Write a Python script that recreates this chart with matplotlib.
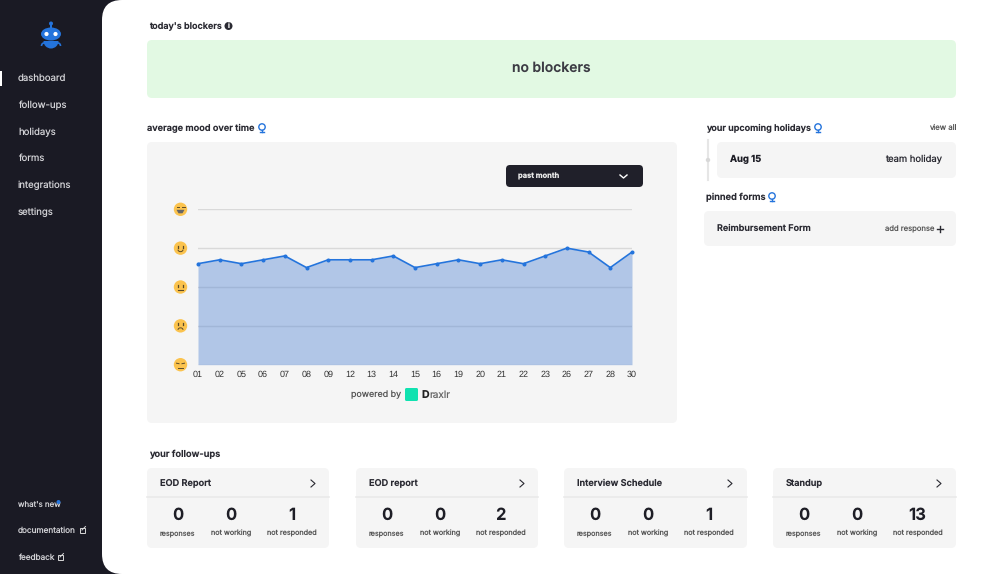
import matplotlib
matplotlib.use("Agg")
import matplotlib.pyplot as plt
from matplotlib.patches import FancyBboxPatch, Circle, Rectangle, Arc, Polygon, Ellipse, Wedge

plt.rcParams["font.family"] = ["Inter", "DejaVu Sans"]
plt.rcParams["text.hinting"] = "no_hinting"
plt.rcParams["text.hinting_factor"] = 1

days = ["01", "02", "05", "06", "07", "08", "09", "12", "13", "14", "15",
        "16", "19", "20", "21", "22", "23", "26", "27", "28", "30"]
mood = [3.6, 3.7, 3.6, 3.7, 3.8, 3.5, 3.7, 3.7, 3.7, 3.8, 3.5,
        3.6, 3.7, 3.6, 3.7, 3.6, 3.8, 4.0, 3.9, 3.5, 3.9]
mood_levels = [1, 2, 3, 4, 5]

nav_top = ["dashboard", "follow-ups", "holidays", "forms", "integrations", "settings"]
nav_bottom = ["what's new", "documentation", "feedback"]
card_names = ["EOD Report", "EOD report", "Interview Schedule", "Standup"]
responses = [0, 0, 0, 0]
not_working = [0, 0, 0, 0]
not_responded = [1, 2, 1, 13]

DARK = "#1a1a24"
PANEL = "#f5f5f5"
BLUE = "#2474dc"
TEXT = "#2a2a32"

fig = plt.figure(figsize=(10, 5.74), dpi=100, facecolor=DARK)

# whole page is drawn in pixel coords
ui = fig.add_axes([0, 0, 1, 1])
ui.set_xlim(0, 1000)
ui.set_ylim(574, 0)
ui.axis("off")


def rbox(x0, y0, x1, y1, color, r=5, z=1):
    ui.add_patch(FancyBboxPatch((x0 + r, y0 + r), x1 - x0 - 2 * r, y1 - y0 - 2 * r,
                                boxstyle=f"round,pad={r},rounding_size={r}",
                                fc=color, ec="none", zorder=z))


def label(x, y, s, size=7, color=TEXT, weight="normal", ha="left"):
    ui.text(x, y + 0.5, s, fontsize=size, color=color, fontweight=weight, ha=ha, va="center", zorder=5)


def trophy(x, y):
    ui.add_patch(Circle((x, y - 1), 3.2, fc="none", ec=BLUE, lw=1, zorder=5))
    ui.plot([x, x], [y + 2, y + 4], color=BLUE, lw=1, zorder=5)
    ui.plot([x - 2, x + 2], [y + 4.2, y + 4.2], color=BLUE, lw=1, zorder=5)


def chevron(x, y, color=TEXT):
    ui.plot([x - 2, x + 2, x - 2], [y - 3.5, y, y + 3.5], color=color, lw=0.8, zorder=5)


def ext_link(x, y):
    ui.add_patch(Rectangle((x - 2.5, y - 2), 5, 5, fc="none", ec="#d8d8d8", lw=0.7, zorder=5))
    ui.plot([x, x + 3.5], [y, y - 3.5], color="#d8d8d8", lw=0.7, zorder=6)


# white content area with the round corners
rbox(102, 0, 1040, 574, "white", r=20, z=0)

# sidebar
ui.add_patch(Rectangle((0, 71), 2, 15, fc="white", ec="none"))
ui.add_patch(Ellipse((51, 34), 20, 13, fc=BLUE, ec="none", zorder=2))
ui.add_patch(Wedge((51, 41), 7.5, 0, 180, fc=BLUE, ec="none", zorder=2))
ui.add_patch(Rectangle((50, 23), 2, 6, fc=BLUE, ec="none", zorder=2))
ui.add_patch(Circle((51, 23.5), 2, fc=BLUE, ec="none", zorder=2))
ui.add_patch(Circle((46.5, 34), 2.1, fc="white", ec="none", zorder=3))
ui.add_patch(Circle((55.5, 34), 2.1, fc="white", ec="none", zorder=3))
ui.add_patch(Arc((44, 46), 5, 6, theta1=180, theta2=290, ec=BLUE, lw=1.2, zorder=2))
ui.add_patch(Arc((58, 46), 5, 6, theta1=250, theta2=360, ec=BLUE, lw=1.2, zorder=2))
for i, name in enumerate(nav_top):
    label(18, 78 + i * 26.7, name, size=6.9, color="#d2d2d6")
nav_sizes = [5.7, 5.9, 5.9]
for name, y, fs in zip(nav_bottom, [504, 530.5, 557], nav_sizes):
    label(18, y, name, size=fs, color="#d2d2d6")
ui.add_patch(Circle((58.5, 502), 2, fc=BLUE, ec="none", zorder=6))
ext_link(82, 530)
ext_link(60, 557)

# blockers
label(149, 26, "today's blockers", size=6.5, weight="semibold")
ui.add_patch(Circle((228.5, 26), 4, fc=TEXT, ec="none", zorder=5))
ui.text(228.5, 26, "i", fontsize=5, color="white", ha="center", va="center", zorder=6, fontweight="bold")
rbox(147, 40, 956, 98, "#e2f9e3")
label(551, 68, "no blockers", size=10, color="#3c3c44", weight="semibold", ha="center")

# mood panel
label(147, 128, "average mood over time", size=6.6, weight="semibold")
trophy(262, 128)
rbox(147, 142, 677, 423, PANEL)
rbox(506, 165, 643, 187, "#20202a", r=4)
label(518, 175.5, "past month", size=5.4, color="#e8e8e8", weight="bold")
ui.plot([620, 623.5, 627], [175, 178, 175], color="white", lw=1, zorder=5)

ax = fig.add_axes([198 / 1000, 1 - 364.7 / 574, (632 - 198) / 1000, (364.7 - 209.3) / 574])
ax.patch.set_alpha(0)
ax.set_xlim(0, len(days) - 1)
ax.set_ylim(1, 5)
for spine in ax.spines.values():
    spine.set_visible(False)
x = list(range(len(days)))
# see-through fill so the grid shows darker under it
ax.fill_between(x, mood, 1, color="#5e8dd6", alpha=0.45, lw=0, zorder=2)
ax.plot(x, mood, color=BLUE, lw=1.2, marker="o", ms=1.9, clip_on=False, zorder=4)
ax.set_yticks(mood_levels)
ax.set_yticklabels([])
ax.tick_params(axis="y", length=0)
ax.set_axisbelow(True)
ax.yaxis.grid(True, color="#d9d9d9", lw=1.0, zorder=1)
ax.set_xticks(x)
ax.set_xticklabels(days, fontsize=6.4, color="#333333", family="Liberation Sans")
ax.tick_params(axis="x", length=0, pad=4)

# emoji column beside the levels
emoji_y = [ui.transData.inverted().transform(ax.transData.transform((0, lvl)))[1] for lvl in mood_levels]
ex = 180.5
for lvl, ey in zip(mood_levels, emoji_y):
    ui.add_patch(Circle((ex, ey), 6.7, fc="#fbc34e", ec="none", zorder=5))
    eye_col = "#5a4a2a"
    if lvl == 5:
        ui.add_patch(Polygon([(ex - 4, ey + 0.5), (ex + 4, ey + 0.5), (ex + 2, ey + 4), (ex - 2, ey + 4)],
                             fc="#666666", ec="none", zorder=6))
        ui.plot([ex - 4, ex - 1.5], [ey - 2, ey - 2], color=eye_col, lw=0.7, zorder=6)
        ui.plot([ex + 1.5, ex + 4], [ey - 2, ey - 2], color=eye_col, lw=0.7, zorder=6)
    elif lvl == 1:
        ui.plot([ex - 4, ex - 1.5], [ey - 1.5, ey - 1], color=eye_col, lw=0.7, zorder=6)
        ui.plot([ex + 1.5, ex + 4], [ey - 1, ey - 1.5], color=eye_col, lw=0.7, zorder=6)
        ui.plot([ex - 2.5, ex + 2.5], [ey + 3, ey + 3], color=eye_col, lw=0.7, zorder=6)
    else:
        ui.plot([ex - 2.3, ex - 2.3], [ey - 2.5, ey - 0.5], color=eye_col, lw=0.9, zorder=6)
        ui.plot([ex + 2.3, ex + 2.3], [ey - 2.5, ey - 0.5], color=eye_col, lw=0.9, zorder=6)
        if lvl == 4:
            ui.add_patch(Arc((ex, ey + 1.5), 5, 4, theta1=0, theta2=180, ec=eye_col, lw=0.7, zorder=6))
        elif lvl == 3:
            ui.plot([ex - 2.5, ex + 2.5], [ey + 2.5, ey + 2.5], color=eye_col, lw=0.8, zorder=6)
        else:
            ui.add_patch(Arc((ex, ey + 4), 5, 4, theta1=180, theta2=360, ec=eye_col, lw=0.7, zorder=6))

label(351, 394.5, "powered by", size=6.4, color="#555555")
rbox(405, 388, 418, 401, "#10e2b0", r=1.5)
label(421, 394.5, "D", size=7.6, color="#222222", weight="bold")
label(429, 394.5, "raxlr", size=7.2, color="#666666")

# right column
label(706, 128, "your upcoming holidays", size=6.5, weight="semibold")
trophy(818, 128)
label(956, 127.5, "view all", size=5.6, color="#555555", ha="right")
ui.plot([708, 708], [140, 180], color="#e6e6e6", lw=1.5, zorder=1)
ui.add_patch(Circle((708, 160), 2.2, fc="#d8d8d8", ec="none", zorder=2))
rbox(717, 142, 956, 178, PANEL)
label(730, 159, "Aug 15", size=6.8, color="#1e1e26", weight="bold")
label(942, 159, "team holiday", size=6.8, ha="right")
label(706, 197, "pinned forms", size=6.7, weight="semibold")
trophy(772, 197)
rbox(704, 211, 956, 246, PANEL)
label(717, 228, "Reimbursement Form", size=6.5, weight="semibold")
label(934, 228.5, "add response", size=5.5, color="#555555", ha="right")
ui.plot([937, 943], [228.5, 228.5], color=TEXT, lw=1, zorder=5)
ui.plot([940, 940], [225.5, 231.5], color=TEXT, lw=1, zorder=5)

# follow-up cards
label(149, 453.5, "your follow-ups", size=6.7, weight="semibold")
card_left = [147, 356, 564, 773]
card_right = [329, 538, 747, 956]
stat_names = ["responses", "not working", "not responded"]
for i, name in enumerate(card_names):
    x0, x1 = card_left[i], card_right[i]
    rbox(x0, 468, x1, 548, PANEL)
    ui.plot([x0, x1], [497, 497], color="#eaeaea", lw=1.2, zorder=2)
    label(x0 + 13, 482.5, name, size=6.6, weight="semibold")
    chevron(x0 + 166, 483.5)
    vals = [responses[i], not_working[i], not_responded[i]]
    for off, v, s in zip([30.5, 84, 144.5], vals, stat_names):
        label(x0 + off, 515, str(v), size=12, color="#1e1e26", weight="bold", ha="center")
        label(x0 + off, 532.5, s, size=5.2, color="#555555", ha="center")

fig.savefig("out.png", dpi=100, facecolor=DARK)
